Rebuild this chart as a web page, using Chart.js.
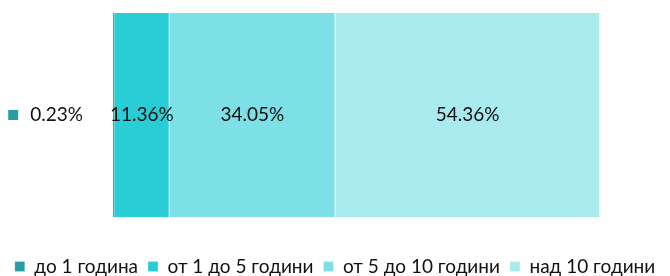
<!DOCTYPE html>
<html>
<head>
<meta charset="utf-8">
<script src="https://cdn.jsdelivr.net/npm/chart.js@4"></script>
<style>
  html, body { margin: 0; padding: 0; background: #fff; }
  #wrap { width: 670px; height: 276px; position: relative; }
</style>
</head>
<body>
<div id="wrap"><canvas id="stazChart"></canvas></div>
<script>
// --- données ---
const categories = [''];
const seriesNames = ['до 1 година', 'от 1 до 5 години', 'от 5 до 10 години', 'над 10 години'];
const seriesValues = [0.23, 11.36, 34.05, 54.36];
const seriesColors = ['#2A9DA3', '#29CDD6', '#7CE0E6', '#A8EAEE'];

const FONT = 'Lato, "Open Sans", sans-serif';

// étiquettes des valeurs (la petite à gauche avec un carré)
const valueLabels = {
    id: 'valueLabels',
    afterDatasetsDraw(chart) {
        const ctx = chart.ctx;
        ctx.save();
        ctx.font = '19px ' + FONT;
        ctx.fillStyle = '#111';
        ctx.textBaseline = 'middle';
        chart.data.datasets.forEach((ds, i) => {
            const bar = chart.getDatasetMeta(i).data[0];
            const txt = ds.data[0].toFixed(2) + '%';
            if (i === 0) {
                ctx.textAlign = 'right';
                const right = bar.base - 30;
                ctx.fillText(txt, right, bar.y);
                const w = ctx.measureText(txt).width;
                ctx.fillStyle = ds.backgroundColor;
                ctx.fillRect(right - w - 22, bar.y - 5, 10, 10);
                ctx.fillStyle = '#111';
            } else {
                ctx.textAlign = 'center';
                ctx.fillText(txt, (bar.base + bar.x) / 2, bar.y);
            }
        });
        ctx.restore();
    }
};

const chart = new Chart(document.getElementById('stazChart'), {
    type: 'bar',
    data: {
        labels: categories,
        datasets: seriesNames.map((name, i) => ({
            label: name,
            data: [seriesValues[i]],
            backgroundColor: seriesColors[i],
            borderColor: '#fff',
            borderWidth: { left: 0, right: 1, top: 0, bottom: 0 },
            borderSkipped: false,
            barPercentage: 1,
            categoryPercentage: 1
        }))
    },
    options: {
        indexAxis: 'y',
        responsive: true,
        maintainAspectRatio: false,
        animation: false,
        layout: { padding: { left: 0, right: 0, top: 13, bottom: -10 } },
        scales: {
            x: { stacked: true, display: false, min: 0, max: 100 },
            y: {
                stacked: true,
                grid: { display: false },
                border: { display: false },
                ticks: { display: false },
                afterFit(scale) { scale.width = 113; }
            },
            yRight: {
                type: 'category',
                position: 'right',
                grid: { display: false },
                border: { display: false },
                ticks: { display: false },
                afterFit(scale) { scale.width = 70; }
            }
        },
        plugins: {
            tooltip: { enabled: false },
            legend: {
                position: 'bottom',
                title: { display: true, text: '', padding: { top: 0, bottom: 18 }, font: { size: 10 } },
                labels: {
                    boxWidth: 10,
                    boxHeight: 10,
                    padding: 10,
                    color: '#111',
                    font: { family: FONT, size: 19 }
                }
            }
        }
    },
    plugins: [valueLabels]
});
</script>
</body>
</html>
